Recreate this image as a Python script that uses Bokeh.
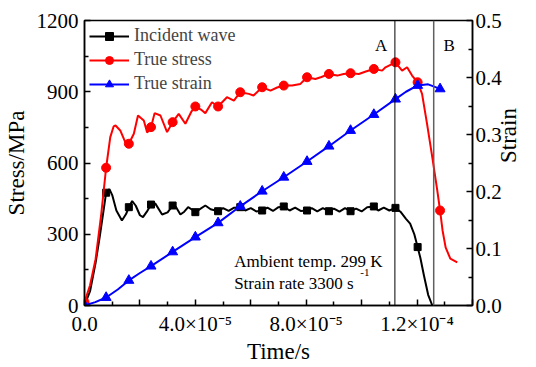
import math
from bokeh.plotting import figure
from bokeh.models import (Range1d, LinearAxis, FixedTicker, Span, Legend, LegendItem,
                          NumeralTickFormatter)
from bokeh.core.properties import value
from bokeh.embed import file_html
from bokeh.resources import INLINE

FONT = "'Liberation Serif', 'Times New Roman', serif"

# ---- data (time in units of 1e-5 s) ----
inc_t = [0, 0.2, 0.4, 0.55, 0.7, 0.78, 0.9, 1.0, 1.15, 1.35, 1.5, 1.6, 1.72, 1.85, 2.0, 2.11,
         2.25, 2.4, 2.55, 2.8, 3.0, 3.18, 3.3, 3.46, 3.6, 3.74, 3.9, 4.0, 4.15, 4.36, 4.55, 4.82,
         5.0, 5.2, 5.4, 5.62, 5.8, 6.0, 6.2, 6.41, 6.6, 6.8, 7.0, 7.19, 7.4, 7.6, 7.8, 8.03,
         8.2, 8.4, 8.6, 8.82, 9.0, 9.2, 9.4, 9.6, 9.8, 10.0, 10.2, 10.44, 10.6, 10.8, 11.0, 11.22,
         11.4, 11.6, 11.75, 11.9, 12.02, 12.12, 12.25, 12.4, 12.55]
inc_s = [0, 60, 180, 290, 410, 475, 490, 465, 400, 358, 385, 414, 440, 420, 380, 372,
         395, 425, 430, 383, 392, 421, 415, 383, 395, 414, 402, 393, 405, 421, 405, 397,
         410, 398, 412, 414, 400, 410, 396, 400, 412, 398, 414, 417, 400, 412, 398, 400,
         410, 396, 410, 397, 408, 395, 410, 397, 408, 396, 414, 417, 400, 412, 400, 411,
         395, 365, 345, 300, 246, 200, 125, 45, 0]

inc_mt = [0, 0.78, 1.6, 2.4, 3.18, 4.0, 4.82, 5.62, 6.41, 7.19, 8.03, 8.82, 9.6, 10.44, 11.22, 12.02]
inc_ms = [0, 475, 414, 425, 421, 393, 397, 414, 400, 417, 400, 397, 397, 417, 411, 246]

str_t = [0, 0.2, 0.4, 0.6, 0.78, 0.93, 1.05, 1.12, 1.29, 1.47, 1.6, 1.78, 1.93, 2.14, 2.26, 2.4,
         2.53, 2.74, 2.98, 3.18, 3.4, 3.64, 3.85, 4.0, 4.2, 4.36, 4.6, 4.82, 5.14, 5.39, 5.62,
         5.93, 6.1, 6.41, 6.71, 6.95, 7.19, 7.49, 7.79, 8.03, 8.33, 8.55, 8.82, 9.12, 9.35, 9.6,
         9.9, 10.15, 10.44, 10.74, 10.86, 11.22, 11.46, 11.64, 11.82, 12.02, 12.18, 12.36, 12.55,
         12.73, 12.83, 12.92, 13.03, 13.2, 13.45]
str_s = [14, 85, 195, 380, 580, 709, 754, 758, 737, 688, 681, 723, 800, 779, 728, 751,
         810, 800, 730, 772, 807, 765, 815, 838, 825, 810, 856, 838, 877, 863, 898,
         891, 884, 919, 905, 918, 926, 926, 933, 961, 954, 962, 975, 968, 975, 978,
         975, 985, 996, 989, 1003, 1024, 989, 1003, 968, 940, 891, 765, 624,
         484, 400, 316, 245, 197, 182]

str_mt = [0, 0.78, 1.6, 2.4, 3.18, 4.0, 4.82, 5.62, 6.41, 7.19, 8.03, 8.82, 9.6, 10.44, 11.22, 12.02, 12.83]
str_ms = [14, 580, 681, 751, 772, 838, 838, 898, 919, 926, 961, 975, 978, 996, 1024, 940, 400]

eps_t = [0, 0.39, 0.78, 1.2, 1.6, 2.0, 2.4, 3.18, 4.0, 4.82, 5.62, 6.41, 7.19, 8.03, 8.82, 9.6,
         10.44, 11.22, 11.6, 12.02, 12.4, 12.83]
eps_v = [0, 0.006, 0.014, 0.028, 0.044, 0.057, 0.069, 0.094, 0.12, 0.145, 0.174, 0.2005, 0.225,
         0.2526, 0.2795, 0.307, 0.335, 0.362, 0.375, 0.386, 0.388, 0.380]

eps_mt = [0, 0.78, 1.6, 2.4, 3.18, 4.0, 4.82, 5.62, 6.41, 7.19, 8.03, 8.82, 9.6, 10.44, 11.22, 12.02, 12.83]
eps_mv = [0, 0.014, 0.044, 0.069, 0.094, 0.12, 0.145, 0.174, 0.2005, 0.225, 0.2526, 0.2795, 0.307,
          0.335, 0.362, 0.386, 0.380]

x_ticks = [0, 2, 4, 6, 8, 10, 12, 14]
x_minor = [1, 3, 5, 7, 9, 11, 13]
x_labels = {0: "0.0", 2: "", 4: "4.0×10⁻⁵", 6: "", 8: "8.0×10⁻⁵", 10: "", 12: "1.2×10⁻⁴", 14: ""}
y_ticks = [0, 300, 600, 900, 1200]
y_minor = [150, 450, 750, 1050]
y2_ticks = [0, 0.1, 0.2, 0.3, 0.4, 0.5]
y2_minor = [0.05, 0.15, 0.25, 0.35, 0.45]

line_A = 11.2
line_B = 12.6

p = figure(width=536, height=367, output_backend="svg", toolbar_location=None,
           x_range=Range1d(0, 14), y_range=Range1d(0, 1200),
           min_border_left=82, min_border_right=64, min_border_top=20, min_border_bottom=62)
p.extra_y_ranges = {"strain": Range1d(0, 0.5)}
p.grid.visible = False
p.outline_line_color = "black"
p.outline_line_width = 1.5
p.background_fill_color = "white"
p.border_fill_color = "white"

def style_axis(ax):
    ax.axis_line_width = 1.5
    ax.major_tick_in = 6
    ax.major_tick_out = 0
    ax.minor_tick_in = 4
    ax.minor_tick_out = 0
    ax.major_tick_line_width = 1.5
    ax.minor_tick_line_width = 1.5
    ax.major_label_text_font = FONT
    ax.major_label_text_font_size = "21px"
    ax.major_label_text_color = "black"
    ax.axis_label_text_font = FONT
    ax.axis_label_text_font_size = "23px"
    ax.axis_label_text_font_style = "normal"
    ax.axis_label_text_color = "black"

xa = p.xaxis[0]
xa.ticker = FixedTicker(ticks=x_ticks, minor_ticks=x_minor)
xa.major_label_overrides = x_labels
xa.axis_label = "Time/s"
style_axis(xa)
xa.major_label_standoff = 6
xa.axis_label_standoff = 0

ya = p.yaxis[0]
ya.ticker = FixedTicker(ticks=y_ticks, minor_ticks=y_minor)
ya.axis_label = "Stress/MPa"
style_axis(ya)
ya.major_label_standoff = 6

ra = LinearAxis(y_range_name="strain", axis_label="Strain")
ra.ticker = FixedTicker(ticks=y2_ticks, minor_ticks=y2_minor)
ra.formatter = NumeralTickFormatter(format="0.0")
style_axis(ra)
ra.major_label_standoff = 3
ra.axis_label_standoff = 4
ra.axis_label_orientation = math.pi / 2
p.add_layout(ra, "right")

p.add_layout(Span(location=line_A, dimension="height", line_color="black", line_width=1))
p.add_layout(Span(location=line_B, dimension="height", line_color="#606060", line_width=1.5))

r1l = p.line(inc_t, inc_s, line_color="black", line_width=2)
r1m = p.scatter(inc_mt, inc_ms, marker="square", size=7, color="black")
r2l = p.line(str_t, str_s, line_color="red", line_width=2)
r2m = p.scatter(str_mt, str_ms, marker="circle", size=9, color="red")
r3l = p.line(eps_t, eps_v, line_color="blue", line_width=2, y_range_name="strain")
r3m = p.scatter(eps_mt, eps_mv, marker="triangle", size=10, color="blue", y_range_name="strain")

legend = Legend(items=[LegendItem(label="Incident wave", renderers=[r1l, r1m]),
                       LegendItem(label="True stress", renderers=[r2l, r2m]),
                       LegendItem(label="True strain", renderers=[r3l, r3m])],
                location="top_left", margin=0, padding=5, spacing=3,
                glyph_width=40, glyph_height=20, label_height=20, label_standoff=5,
                label_text_font=FONT, label_text_font_size="18px",
                background_fill_alpha=0, border_line_alpha=0)
p.add_layout(legend)

p.text(x=[10.7, 13.16], y=[1095, 1095], text=["A", "B"], text_font=value(FONT),
       text_font_size="17px", text_align="center", text_baseline="alphabetic", text_color="black")
p.text(x=[5.4, 5.4], y=[185, 91], text=["Ambient temp. 299 K", "Strain rate 3300 s"],
       text_font=value(FONT), text_font_size="17px", text_align="left",
       text_baseline="alphabetic", text_color="black")
p.text(x=[9.95], y=[140], text=["-1"], text_font=value(FONT), text_font_size="11px",
       text_align="left", text_baseline="alphabetic", text_color="black")

open("out.html", "w").write(file_html(p, INLINE))
